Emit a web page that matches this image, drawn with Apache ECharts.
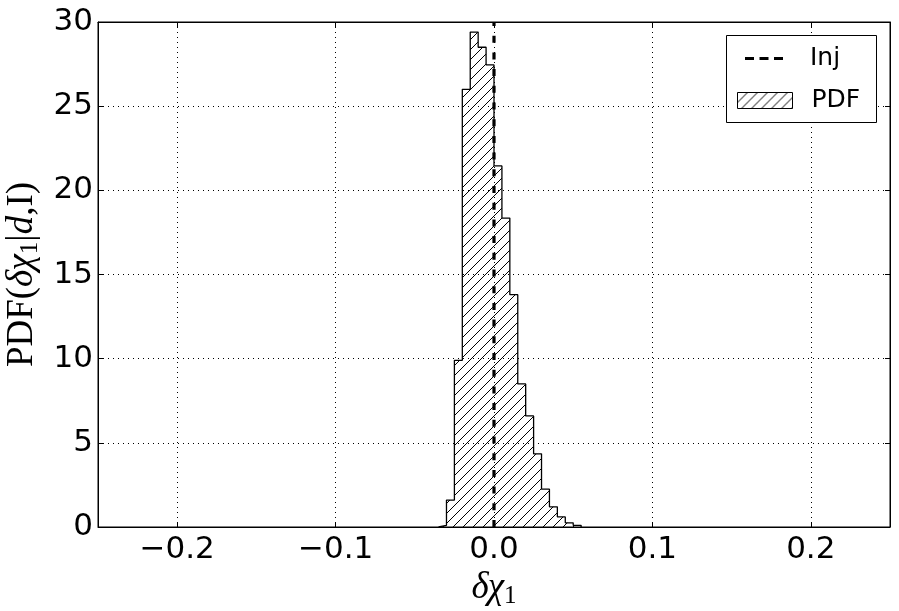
<!DOCTYPE html>
<html>
<head>
<meta charset="utf-8">
<script src="https://cdn.jsdelivr.net/npm/echarts@6/dist/echarts.min.js"></script>
<style>html,body{margin:0;padding:0;background:#fff}#c{width:899px;height:611px}</style>
</head>
<body>
<div id="c"></div>
<script>
// Histogram bin left edges (bin width 0.005) and PDF heights
var binEdges = [-0.035,-0.030,-0.025,-0.020,-0.015,-0.010,-0.005,0.000,0.005,0.010,0.015,0.020,0.025,0.030,0.035,0.040,0.045,0.050,0.055];
var pdfValues = [0.1,1.6,9.9,26.0,29.4,28.5,27.45,21.45,18.35,13.8,8.5,6.6,4.35,2.25,1.2,0.6,0.25,0.1];
var injValue = 0.0;
var xRange = [-0.25, 0.25];
var yRange = [0, 30];

// hatch pattern
var T = 10;
var pc = document.createElement('canvas');
pc.width = T; pc.height = T;
var g = pc.getContext('2d');
g.strokeStyle = '#000'; g.lineWidth = 1;
g.beginPath();
g.moveTo(0,T); g.lineTo(T,0);
g.moveTo(-1,1); g.lineTo(1,-1);
g.moveTo(T-1,T+1); g.lineTo(T+1,T-1);
g.stroke();
var hatch = {image: pc, repeat: 'repeat'};

// step outline data
var stepData = [[binEdges[0], 0]];
for (var i = 0; i < pdfValues.length; i++) stepData.push([binEdges[i], pdfValues[i]]);
stepData.push([binEdges[binEdges.length-1], 0]);

function fmtX(v){
  if (Math.abs(Math.abs(v) - 0.25) < 1e-9) return '';
  var s = (Math.round(v*10)/10).toFixed(1);
  if (s === '-0.0') s = '0.0';
  return s.replace('-', '\u2212');
}

var chart = echarts.init(document.getElementById('c'), null, {renderer:'canvas'});
var tickFont = {fontFamily:'DejaVu Sans', fontSize:31, color:'#000'};
var dotted = {show:true, lineStyle:{color:'#000', type:[1,4], width:1}};
chart.setOption({
  animation:false,
  backgroundColor:'#fff',
  grid:{left:98, right:9, top:22, bottom:84, show:true, borderColor:'#000', borderWidth:1, containLabel:false, outerBoundsMode:'none'},
  xAxis:[{
    type:'value', min:xRange[0], max:xRange[1], splitNumber:5,
    axisLine:{show:true, onZero:false, lineStyle:{color:'#000', width:1}},
    axisTick:{show:true, inside:true, length:5, lineStyle:{color:'#000'}},
    axisLabel:Object.assign({formatter:fmtX, margin:7, showMinLabel:false, showMaxLabel:false}, tickFont),
    splitLine:dotted,
    name:'{i|δχ}{s|1}', nameLocation:'middle', nameGap:37,
    nameTextStyle:{rich:{
      i:{fontFamily:'Liberation Serif', fontStyle:'italic', fontSize:37, color:'#000'},
      s:{fontFamily:'Liberation Serif', fontSize:25, color:'#000', padding:[16,0,0,0]}
    }}
  },{
    type:'value', min:xRange[0], max:xRange[1], splitNumber:5, position:'top',
    axisLine:{show:true, onZero:false, lineStyle:{color:'#000'}},
    axisTick:{show:true, inside:true, length:5, lineStyle:{color:'#000'}},
    axisLabel:{show:false}, splitLine:{show:false}
  }],
  yAxis:[{
    type:'value', min:yRange[0], max:yRange[1], interval:5,
    axisLine:{show:true, onZero:false, lineStyle:{color:'#000'}},
    axisTick:{show:true, inside:true, length:5, lineStyle:{color:'#000'}},
    axisLabel:Object.assign({margin:5}, tickFont),
    splitLine:dotted,
    name:'{r|PDF(}{i|δχ}{s|1}{r||}{i|d}{r|,I)}', nameLocation:'middle', nameGap:54,
    nameTextStyle:{rich:{
      r:{fontFamily:'Liberation Serif', fontSize:37, color:'#000'},
      i:{fontFamily:'Liberation Serif', fontStyle:'italic', fontSize:37, color:'#000'},
      s:{fontFamily:'Liberation Serif', fontSize:25, color:'#000', padding:[16,0,0,0]}
    }}
  },{
    type:'value', min:yRange[0], max:yRange[1], interval:5, position:'right',
    axisLine:{show:true, onZero:false, lineStyle:{color:'#000'}},
    axisTick:{show:true, inside:true, length:5, lineStyle:{color:'#000'}},
    axisLabel:{show:false}, splitLine:{show:false}
  }],
  graphic:[{type:'rect', left:726, top:35, shape:{width:150, height:87}, style:{fill:'#fff', stroke:'#000', lineWidth:1}, z:10}],
  legend:[{
    data:[{name:'Inj', icon:'path://M0,0h9v3h-9Z M14.5,0h9v3h-9Z M29,0h9v3h-9Z', itemStyle:{color:'#000'}}],
    left:745, top:46, padding:0, orient:'vertical', itemWidth:38, itemHeight:3, z:20,
    textStyle:{fontFamily:'DejaVu Sans', fontSize:25, color:'#000', padding:[0,0,0,22]}
  },{
    data:[{name:'PDF', icon:'rect', itemStyle:{color:hatch, borderColor:'#000', borderWidth:1}}],
    left:737, top:88, padding:0, orient:'vertical', itemWidth:55, itemHeight:16, z:20,
    textStyle:{fontFamily:'DejaVu Sans', fontSize:25, color:'#000', padding:[0,0,0,14]}
  }],
  series:[{
    name:'PDF', type:'line', step:'end', data:stepData, symbol:'none',
    lineStyle:{color:'#000', width:1.3}, itemStyle:{color:'#000'},
    areaStyle:{color:hatch, opacity:1, origin:'start'}, z:2
  },{
    name:'Inj', type:'line', data:[[injValue,yRange[0]],[injValue,yRange[1]]], symbol:'none',
    lineStyle:{color:'#000', width:3.2, type:[7,9.7]}, itemStyle:{color:'#000'}, z:3
  }]
});
</script>
</body>
</html>
